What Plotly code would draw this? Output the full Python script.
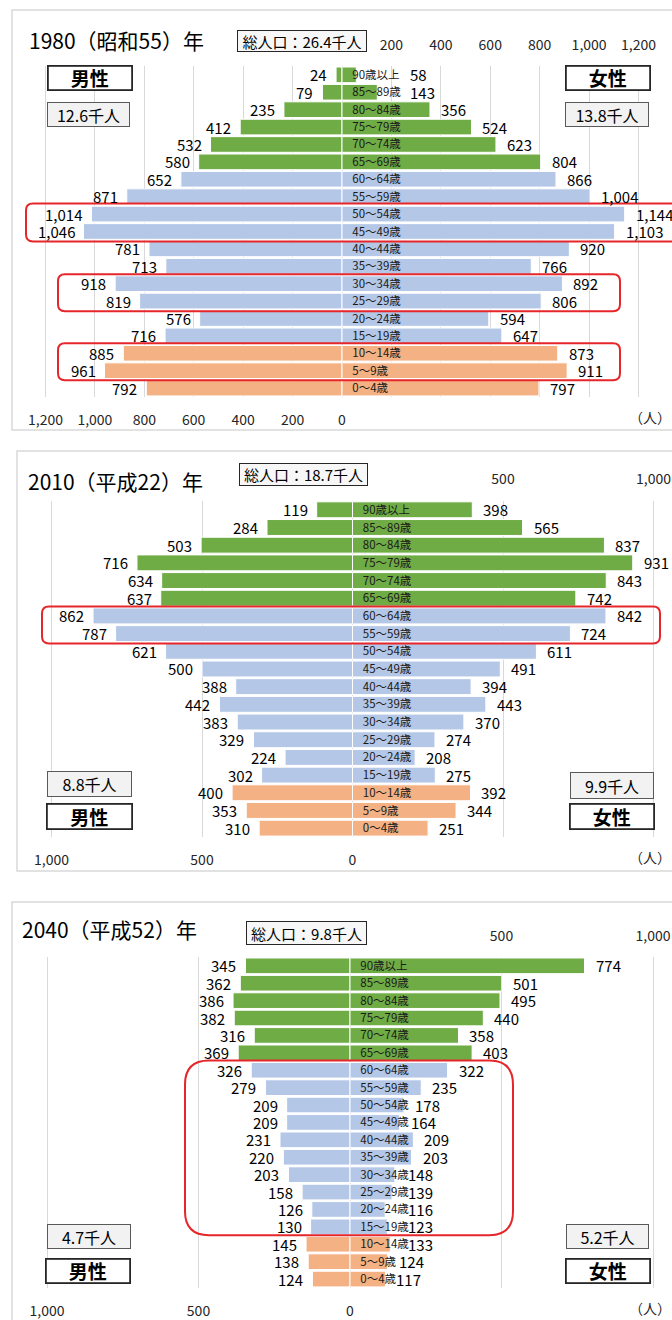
import plotly.graph_objects as go

ages = ["90歳以上", "85～89歳", "80～84歳", "75～79歳", "70～74歳", "65～69歳",
        "60～64歳", "55～59歳", "50～54歳", "45～49歳", "40～44歳", "35～39歳",
        "30～34歳", "25～29歳", "20～24歳", "15～19歳", "10～14歳", "5～9歳", "0～4歳"]

male_1980 = [24, 79, 235, 412, 532, 580, 652, 871, 1014, 1046, 781, 713, 918, 819, 576, 716, 885, 961, 792]
female_1980 = [58, 143, 356, 524, 623, 804, 866, 1004, 1144, 1103, 920, 766, 892, 806, 594, 647, 873, 911, 797]

male_2010 = [119, 284, 503, 716, 634, 637, 862, 787, 621, 500, 388, 442, 383, 329, 224, 302, 400, 353, 310]
female_2010 = [398, 565, 837, 931, 843, 742, 842, 724, 611, 491, 394, 443, 370, 274, 208, 275, 392, 344, 251]

male_2040 = [345, 362, 386, 382, 316, 369, 326, 279, 209, 209, 231, 220, 203, 158, 126, 130, 145, 138, 124]
female_2040 = [774, 501, 495, 440, 358, 403, 322, 235, 178, 164, 209, 203, 148, 139, 116, 123, 133, 124, 117]

years = ["1980（昭和55）年", "2010（平成22）年", "2040（平成52）年"]
total_pop = ["26.4", "18.7", "9.8"]
male_total = ["12.6", "8.8", "4.7"]
female_total = ["13.8", "9.9", "5.2"]

W, H = 672, 1320
FONT = "Noto Sans CJK JP, Noto Sans, sans-serif"
GREEN, BLUE, ORANGE = "#6FAC46", "#B4C7E7", "#F4B183"
RED = "#E5262B"


def px(x):
    return x / W


def py(y):
    return 1 - y / H


def age_color(i):
    # 65+ green, 15-64 blue, 0-14 orange
    return GREEN if i < 6 else BLUE if i < 16 else ORANGE


colors = [age_color(i) for i in range(len(ages))]

# pixel layout of each panel (c = zero line, s = px per person)
panels = [
    dict(male=male_1980, female=female_1980, c=342, s=0.2471, top=66.3, bot=397.7,
         step=200, tmax=1200, clear=231, frame=(12, 10, 431), title=(29, 40),
         total=(237, 367, 30, 52),
         sexbox=[(48, 132, 66, 90), (47, 130, 102, 127), (566, 650, 66, 90), (565, 649, 102, 127)]),
    dict(male=male_2010, female=female_2010, c=352.5, s=0.301, top=502.1, bot=838.9,
         step=500, tmax=1000, clear=150, frame=(17, 452, 873), title=(28, 482),
         total=(239, 368, 464, 487),
         sexbox=[(47, 132, 806, 831), (47, 132, 773, 799), (570, 654, 806, 831), (570, 654, 774, 801)]),
    dict(male=male_2040, female=female_2040, c=350, s=0.303, top=959.3, bot=1290.7,
         step=500, tmax=1000, clear=155, frame=(12, 904, None), title=(22, 931),
         total=(246, 367, 923, 947),
         sexbox=[(46, 130, 1262, 1286), (47, 131, 1227, 1252), (566, 650, 1262, 1286), (566, 649, 1227, 1252)]),
]

red_boxes = [  # x0, x1, y0, y1, radius (pixels)
    (26, 690, 204, 242, 7),
    (58, 620, 275, 312, 7),
    (58, 620, 344, 381, 7),
    (42, 660, 608, 645, 7),
    (185, 513, 1063, 1238, 24),
]


def rounded_path(x0, x1, y0, y1, r):
    pts = [("M", x0 + r, y0), ("L", x1 - r, y0), ("Q", x1, y0, x1, y0 + r),
           ("L", x1, y1 - r), ("Q", x1, y1, x1 - r, y1), ("L", x0 + r, y1),
           ("Q", x0, y1, x0, y1 - r), ("L", x0, y0 + r), ("Q", x0, y0, x0 + r, y0)]
    out = []
    for p in pts:
        cmd, coords = p[0], p[1:]
        xy = []
        for k in range(0, len(coords), 2):
            xy.append(f"{px(coords[k]):.5f},{py(coords[k + 1]):.5f}")
        out.append(cmd + " " + " ".join(xy))
    return " ".join(out) + " Z"


fig = go.Figure()
layout = {}
annotations = []
shapes = []
xl = 20

for i, p in enumerate(panels):
    xb, xt, yy = 2 * i + 1, 2 * i + 2, i + 1
    xb_ref = "x" if xb == 1 else f"x{xb}"
    xt_ref = f"x{xt}"
    y_ref = "y" if yy == 1 else f"y{yy}"
    rng = [(xl - p["c"]) / p["s"], (W - p["c"]) / p["s"]]
    dom = [px(xl), 1]
    grid_vals = list(range(-p["tmax"], p["tmax"] + 1, p["step"]))

    layout["xaxis" if xb == 1 else f"xaxis{xb}"] = dict(
        domain=dom, range=rng, anchor=y_ref, tickvals=grid_vals,
        ticktext=[f"{-v:,}" if v <= 0 else "" for v in grid_vals],
        showgrid=True, gridcolor="#D9D9D9", gridwidth=1, zeroline=False, showline=False,
        ticks="outside", ticklen=10, tickcolor="rgba(0,0,0,0)",
        tickfont=dict(size=14, color="#262626"), fixedrange=True)
    layout[f"xaxis{xt}"] = dict(
        domain=dom, range=rng, anchor=y_ref, overlaying=xb_ref, side="top",
        tickvals=[v for v in grid_vals if v > 0], ticktext=[f"{v:,}" for v in grid_vals if v > 0],
        showgrid=False, zeroline=False, showline=False,
        ticks="outside", ticklen=10, tickcolor="rgba(0,0,0,0)",
        tickfont=dict(size=14, color="#262626"), fixedrange=True)
    layout["yaxis" if yy == 1 else f"yaxis{yy}"] = dict(
        domain=[py(p["bot"]), py(p["top"])], type="category", categoryorder="array",
        categoryarray=ages, range=[len(ages) - 0.5, -0.5], anchor="free", position=px(p["c"]),
        side="right", showgrid=False, zeroline=False, showline=False,
        ticks="outside", ticklen=7, tickcolor="rgba(0,0,0,0)",
        tickfont=dict(size=11.5, color="#1A1A1A"), fixedrange=True)

    # male on the bottom (primary) axis, female on the top (secondary) axis
    fig.add_trace(go.Bar(y=ages, x=[-v for v in p["male"]], orientation="h", xaxis=xb_ref, yaxis=y_ref,
                         marker=dict(color=colors, line=dict(color="white", width=1)),
                         name="男性", showlegend=False,
                         customdata=p["male"], hovertemplate="%{y} 男性 %{customdata}人<extra></extra>"))
    fig.add_trace(go.Bar(y=ages, x=p["female"], orientation="h", xaxis=xt_ref, yaxis=y_ref,
                         marker=dict(color=colors, line=dict(color="white", width=1)),
                         name="女性", showlegend=False,
                         hovertemplate="%{y} 女性 %{x}人<extra></extra>"))

    for age, m, f in zip(ages, p["male"], p["female"]):
        annotations.append(dict(x=-m, y=age, xref=xb_ref, yref=y_ref, text=f"{m:,}", showarrow=False,
                                xanchor="right", yanchor="middle", xshift=-7,
                                font=dict(size=15, color="black")))
        # small female values are pushed past the age label, as in the original
        clear = p["clear"] - (12 / p["s"] if len(age) < 5 else 0)
        annotations.append(dict(x=max(f, clear), y=age, xref=xt_ref, yref=y_ref, text=f"{f:,}",
                                showarrow=False, xanchor="left", yanchor="middle", xshift=9,
                                font=dict(size=15, color="black")))

    # frame
    fx, fy0, fy1 = p["frame"]
    shapes.append(dict(type="rect", xref="paper", yref="paper", x0=px(fx), x1=1.05,
                       y0=py(fy1) if fy1 else -0.05, y1=py(fy0),
                       line=dict(color="#D9D9D9", width=1.5), layer="below"))

    # title
    tx, ty = p["title"]
    annotations.append(dict(x=px(tx - 2), y=py(ty), xref="paper", yref="paper", text=years[i],
                            showarrow=False, xanchor="left", yanchor="middle",
                            font=dict(size=21, color="black")))
    bx0, bx1, by0, by1 = p["total"]
    annotations.append(dict(x=px((bx0 + bx1) / 2), y=py((by0 + by1) / 2), xref="paper", yref="paper",
                            text=f"総人口：{total_pop[i]}千人", showarrow=False,
                            xanchor="center", yanchor="middle",
                            width=bx1 - bx0 - 2, height=by1 - by0 - 2, borderpad=0,
                            bgcolor="#F7F7F7", bordercolor="#262626", borderwidth=1,
                            font=dict(size=15, color="black")))

    labels = [("<b>男性</b>", "white", 1.8, 19), (f"{male_total[i]}千人", "#F2F2F2", 1, 16),
              ("<b>女性</b>", "white", 1.8, 19), (f"{female_total[i]}千人", "#F2F2F2", 1, 16)]
    for (txt, bg, bw, fs), (x0, x1, y0, y1) in zip(labels, p["sexbox"]):
        annotations.append(dict(x=px((x0 + x1) / 2), y=py((y0 + y1) / 2), xref="paper", yref="paper",
                                text=txt, showarrow=False, xanchor="center", yanchor="middle",
                                width=x1 - x0 - 2, height=y1 - y0 - 2,
                                borderpad=0, bgcolor=bg, bordercolor="#262626" if bw > 1 else "#595959",
                                borderwidth=bw, font=dict(size=fs, color="black")))

    # unit label
    annotations.append(dict(x=px(650), y=py(p["bot"] + 20), xref="paper", yref="paper", text="（人）",
                            showarrow=False, xanchor="center", yanchor="middle",
                            font=dict(size=14, color="#262626")))

for x0, x1, y0, y1, r in red_boxes:
    shapes.append(dict(type="path", xref="paper", yref="paper", path=rounded_path(x0, x1, y0, y1, r),
                       line=dict(color=RED, width=2)))

fig.update_layout(
    width=W, height=H, margin=dict(l=0, r=0, t=0, b=0),
    paper_bgcolor="white", plot_bgcolor="rgba(0,0,0,0)",
    barmode="relative", bargap=0.1,
    font=dict(family=FONT, color="black"),
    annotations=annotations, shapes=shapes, **layout)

# drop the default page margin so the figure sits at the window's corner
fig.write_html("out.html", config={"displayModeBar": False},
               post_script="document.body.style.margin='0';")
